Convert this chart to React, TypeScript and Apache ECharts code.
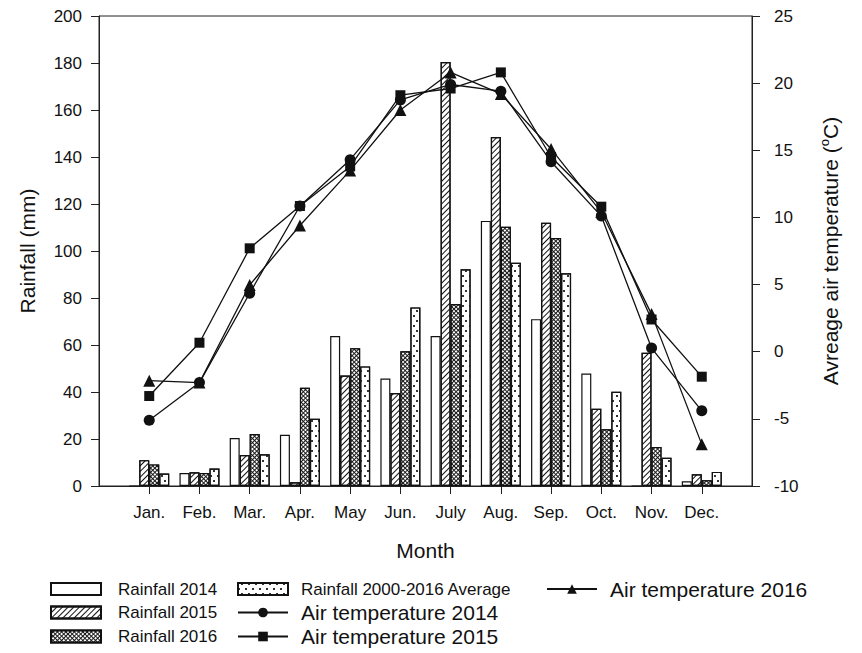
import { useEffect, useRef } from 'react';
import * as echarts from 'echarts';

const MONTHS = ['Jan.', 'Feb.', 'Mar.', 'Apr.', 'May', 'Jun.', 'July', 'Aug.', 'Sep.', 'Oct.', 'Nov.', 'Dec.'];
const MONTH_POS = [1, 2, 3, 4, 5, 6, 7, 8, 9, 10, 11, 12];

const RAIN_2014 = [0, 5.5, 20.4, 21.8, 63.8, 45.7, 63.8, 112.8, 71, 47.9, 0, 2.0];
const RAIN_2015 = [11, 5.8, 13.2, 1.6, 47, 39.6, 180.4, 148.5, 112, 32.9, 56.7, 5.0];
const RAIN_2016 = [9.2, 5.5, 22.1, 41.8, 58.6, 57.3, 77.4, 110.3, 105.5, 24.1, 16.6, 2.4];
const RAIN_AVG = [5.3, 7.4, 13.5, 28.6, 50.9, 76, 92.2, 95, 90.5, 40.1, 12, 6.0];

const TEMP_2014 = [-5.1, -2.3, 4.35, 10.85, 14.3, 18.75, 19.9, 19.4, 14.15, 10.1, 0.27, -4.4];
const TEMP_2015 = [-3.3, 0.67, 7.7, 10.85, 13.8, 19.1, 19.6, 20.8, 14.5, 10.8, 2.4, -1.86];
const TEMP_2016 = [-2.16, -2.3, 4.97, 9.4, 13.5, 18.0, 20.8, 19.2, 15.1, 10.4, 2.8, -6.9];

const FONT = '"Liberation Sans", Arial, sans-serif';
const INK = '#111';

const pair = (vals: number[]) => MONTH_POS.map((x, i) => [x, vals[i]]);

export default function App() {
  const ref = useRef<HTMLDivElement>(null);
  useEffect(() => {
    if (!ref.current) return;
    const chart = echarts.init(ref.current, undefined, { renderer: 'svg' });

    const barBase = {
      type: 'bar',
      xAxisIndex: 0,
      yAxisIndex: 0,
      barWidth: 10,
      barGap: '0%',
    };
    const lineBase = {
      type: 'line',
      xAxisIndex: 0,
      yAxisIndex: 1,
      lineStyle: { color: INK, width: 1.3 },
      itemStyle: { color: INK },
      showSymbol: true,
      z: 5,
    };

    const barLegend = (name: string, left: number, top: number, pad: number) => ({
      data: [name],
      left,
      top,
      padding: 0,
      icon: 'rect',
      itemWidth: 50,
      itemHeight: 12,
      selectedMode: false,
      textStyle: { fontSize: 17, fontFamily: FONT, color: INK, lineHeight: 20, padding: [0, 0, 0, pad] },
    });
    const lineLegend = (name: string, left: number, top: number) => ({
      data: [name],
      left,
      top,
      padding: 0,
      itemWidth: 50,
      itemHeight: 12,
      selectedMode: false,
      textStyle: { fontSize: 21, fontFamily: FONT, color: INK, lineHeight: 24, padding: [0, 0, 0, 8] },
    });

    chart.setOption({
      animation: false,
      backgroundColor: '#fff',
      textStyle: { fontFamily: FONT },
      grid: { left: 99, right: 110, top: 16, bottom: 167, show: true, borderColor: '#222', borderWidth: 1, backgroundColor: 'transparent' },
      legend: [
        barLegend('Rainfall 2014', 50, 579, 12),
        barLegend('Rainfall 2015', 50, 602.5, 12),
        barLegend('Rainfall 2016', 50, 626.5, 12),
        barLegend('Rainfall 2000-2016 Average', 237, 579, 8),
        lineLegend('Air temperature 2014', 237, 600.5),
        lineLegend('Air temperature 2015', 237, 624.5),
        lineLegend('Air temperature 2016', 546, 577),
      ],
      xAxis: {
        type: 'value',
        min: 0,
        max: 13,
        interval: 1,
        name: 'Month',
        nameLocation: 'middle',
        nameGap: 54,
        nameTextStyle: { fontSize: 21, color: INK, fontFamily: FONT },
        axisLine: { show: true, lineStyle: { color: '#222', width: 1 } },
        axisTick: { show: true, inside: false, length: 8, lineStyle: { color: '#222' }, customValues: MONTH_POS },
        axisLabel: {
          fontSize: 17,
          color: INK,
          margin: 18,
          fontFamily: FONT,
          customValues: MONTH_POS,
          formatter: (v: number) => MONTHS[Math.round(v) - 1] ?? '',
        },
        splitLine: { show: false },
      },
      yAxis: [
        {
          type: 'value',
          min: 0,
          max: 200,
          interval: 20,
          position: 'left',
          name: 'Rainfall (mm)',
          nameLocation: 'middle',
          nameGap: 60,
          nameTextStyle: { fontSize: 21, color: INK, fontFamily: FONT, lineHeight: 24 },
          axisLine: { show: true, lineStyle: { color: '#222', width: 1 } },
          axisTick: { show: true, inside: false, length: 8, lineStyle: { color: '#222' } },
          axisLabel: { fontSize: 17, color: INK, margin: 17, fontFamily: FONT },
          splitLine: { show: false },
        },
        {
          type: 'value',
          min: -10,
          max: 25,
          interval: 5,
          position: 'right',
          name: 'Avreage air temperature ({sup|o}C)',
          nameLocation: 'middle',
          nameGap: 66,
          nameTextStyle: {
            fontSize: 21,
            color: INK,
            fontFamily: FONT,
            lineHeight: 24,
            rich: { sup: { fontSize: 13, lineHeight: 13, verticalAlign: 'top', color: INK, fontFamily: FONT } },
          },
          axisLine: { show: true, lineStyle: { color: '#222', width: 1 } },
          axisTick: { show: true, inside: false, length: 8, lineStyle: { color: '#222' } },
          axisLabel: { fontSize: 17, color: INK, margin: 22, fontFamily: FONT },
          splitLine: { show: false },
        },
      ],
      series: [
        {
          ...barBase,
          name: 'Rainfall 2014',
          data: pair(RAIN_2014),
          itemStyle: { color: '#fff', borderColor: INK, borderWidth: 1.2 },
        },
        {
          ...barBase,
          name: 'Rainfall 2015',
          data: pair(RAIN_2015),
          itemStyle: {
            color: '#fff',
            borderColor: INK,
            borderWidth: 1.2,
            decal: { symbol: 'rect', color: '#111', dashArrayX: [1, 0], dashArrayY: [1, 3], rotation: -Math.PI / 4, symbolSize: 1 },
          },
        },
        {
          ...barBase,
          name: 'Rainfall 2016',
          data: pair(RAIN_2016),
          itemStyle: {
            color: '#1a1a1a',
            borderColor: INK,
            borderWidth: 1.2,
            decal: { symbol: 'rect', color: '#fff', dashArrayX: [2, 1], dashArrayY: [2, 1], rotation: Math.PI / 4, symbolSize: 1 },
          },
        },
        {
          ...barBase,
          name: 'Rainfall 2000-2016 Average',
          data: pair(RAIN_AVG),
          itemStyle: {
            color: '#fff',
            borderColor: INK,
            borderWidth: 1.2,
            decal: { symbol: 'rect', color: '#333', dashArrayX: [[1.5, 4.5], [0, 3, 1.5, 1.5]], dashArrayY: [1.5, 2.5], rotation: 0, symbolSize: 1 },
          },
        },
        { ...lineBase, name: 'Air temperature 2014', data: pair(TEMP_2014), symbol: 'circle', symbolSize: 11 },
        { ...lineBase, name: 'Air temperature 2015', data: pair(TEMP_2015), symbol: 'rect', symbolSize: 10 },
        { ...lineBase, name: 'Air temperature 2016', data: pair(TEMP_2016), symbol: 'triangle', symbolSize: 12 },
      ],
    });
    return () => chart.dispose();
  }, []);
  return <div ref={ref} style={{ position: 'fixed', left: 0, top: 0, width: 862, height: 653 }} />;
}
